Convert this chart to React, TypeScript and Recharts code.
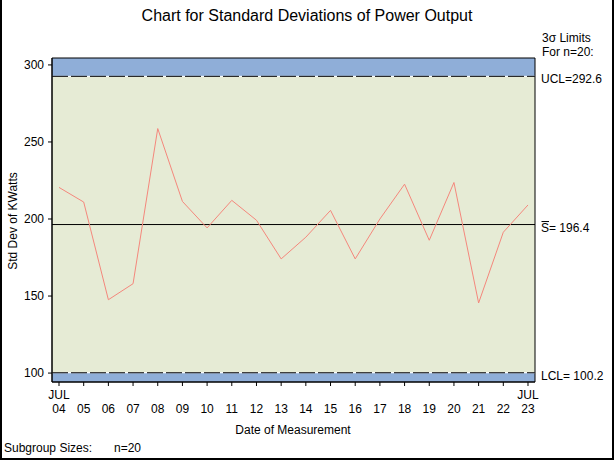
import React from "react";
import { ComposedChart, Line, XAxis, YAxis, ReferenceArea, ReferenceLine } from "recharts";

// days of July, one subgroup (n=20) per day
const days = [4, 5, 6, 7, 8, 9, 10, 11, 12, 13, 14, 15, 16, 17, 18, 19, 20, 21, 22, 23];
const stdDevs = [
  220.5, 211.0, 147.6, 158.0, 258.7, 211.4, 194.2, 212.1, 199.2, 174.1,
  188.2, 205.6, 174.1, 200.0, 222.6, 186.2, 223.7, 145.5, 191.4, 209.1,
];
const yTicks = [100, 150, 200, 250, 300];

const UCL = 292.6;
const CENTER = 196.4;
const LCL = 100.2;
const Y_MIN = 94.2;
const Y_MAX = 304.5;

const FONT = "'Liberation Sans', Arial, sans-serif";
const BAND_BLUE = "#8FAED8";
const ZONE_GREEN = "#E6EBD5";
const LINE_RED = "#F4877C";

const data = days.map((d, i) => ({ day: d, s: stdDevs[i] }));

const DayTick = (props: any) => {
  const { x, y, payload } = props;
  const v = payload.value as number;
  const edge = v === days[0] || v === days[days.length - 1];
  return (
    <g>
      {edge && (
        <text x={x} y={y + 11} textAnchor="middle" fontSize={12} fontFamily={FONT} fill="#000">
          JUL
        </text>
      )}
      <text x={x} y={y + 25} textAnchor="middle" fontSize={12} fontFamily={FONT} fill="#000">
        {String(v).padStart(2, "0")}
      </text>
    </g>
  );
};

const sideLabel = (text: string, bar = false) => (props: any) => {
  const vb = props.viewBox;
  const x = vb.x + vb.width + 6;
  const y = vb.y + 7;
  return (
    <g>
      {bar && <line x1={x + 0.5} x2={x + 8} y1={y - 10} y2={y - 10} stroke="#000" strokeWidth={1} />}
      <text x={x} y={y} fontSize={12} fontFamily={FONT} fill="#000">
        {text}
      </text>
    </g>
  );
};

export default function App() {
  return (
    <div style={{ position: "relative", width: 614, height: 460, background: "#fff" }}>
      <style>{`body{margin:0}`}</style>
      <ComposedChart
        width={614}
        height={460}
        data={data}
        margin={{ top: 58, right: 79, left: 0, bottom: 0 }}
      >
        <ReferenceArea y1={Y_MIN} y2={LCL} fill={BAND_BLUE} fillOpacity={1} stroke="none" />
        <ReferenceArea y1={LCL} y2={UCL} fill={ZONE_GREEN} fillOpacity={1} stroke="none" />
        <ReferenceArea y1={UCL} y2={Y_MAX} fill={BAND_BLUE} fillOpacity={1} stroke="none" />
        <ReferenceLine y={UCL} stroke="#fff" strokeWidth={1} />
        <ReferenceLine y={LCL} stroke="#fff" strokeWidth={1} />
        <ReferenceLine y={UCL} stroke="#000" strokeDasharray="16 3" label={sideLabel("UCL=292.6")} />
        <ReferenceLine y={LCL} stroke="#000" strokeDasharray="16 3" label={sideLabel("LCL= 100.2")} />
        <ReferenceLine y={CENTER} stroke="#000" label={sideLabel("S= 196.4", true)} />
        <ReferenceArea y1={Y_MIN} y2={Y_MAX} fill="none" stroke="#000" strokeWidth={1} />
        <XAxis
          dataKey="day"
          type="number"
          domain={[3.716, 23.284]}
          ticks={days}
          interval={0}
          height={78}
          tickSize={4}
          tickMargin={2}
          axisLine={{ stroke: "#000" }}
          tickLine={{ stroke: "#000" }}
          tick={<DayTick />}
        />
        <YAxis
          type="number"
          domain={[Y_MIN, Y_MAX]}
          ticks={yTicks}
          width={52}
          tickSize={4}
          tickMargin={4}
          axisLine={{ stroke: "#000" }}
          tickLine={{ stroke: "#000" }}
          tick={{ fontSize: 12, fontFamily: FONT, fill: "#000" }}
          allowDataOverflow
        />
        <Line
          type="linear"
          dataKey="s"
          stroke={LINE_RED}
          strokeWidth={1}
          dot={false}
          isAnimationActive={false}
        />
      </ComposedChart>
      <svg
        width={614}
        height={460}
        style={{ position: "absolute", left: 0, top: 0, pointerEvents: "none" }}
      >
        <text x={307} y={21} textAnchor="middle" fontSize={16} fontFamily={FONT} fill="#000">
          Chart for Standard Deviations of Power Output
        </text>
        <text x={542} y={42} fontSize={12} fontFamily={FONT} fill="#000">
          3σ Limits
        </text>
        <text x={542} y={56} fontSize={12} fontFamily={FONT} fill="#000">
          For n=20:
        </text>
        <text
          x={0}
          y={0}
          transform="translate(17,221) rotate(-90)"
          textAnchor="middle"
          fontSize={12}
          fontFamily={FONT}
          fill="#000"
        >
          Std Dev of KWatts
        </text>
        <text x={293} y={434} textAnchor="middle" fontSize={12} fontFamily={FONT} fill="#000">
          Date of Measurement
        </text>
        <text x={4} y={452} fontSize={12} fontFamily={FONT} fill="#000">
          Subgroup Sizes:
        </text>
        <text x={114} y={452} fontSize={12} fontFamily={FONT} fill="#000">
          n=20
        </text>
        <line x1={1} y1={0} x2={1} y2={460} stroke="#000" strokeWidth={2} />
        <line x1={613} y1={0} x2={613} y2={460} stroke="#000" strokeWidth={2} />
        <line x1={0} y1={459} x2={614} y2={459} stroke="#000" strokeWidth={2} />
      </svg>
    </div>
  );
}
